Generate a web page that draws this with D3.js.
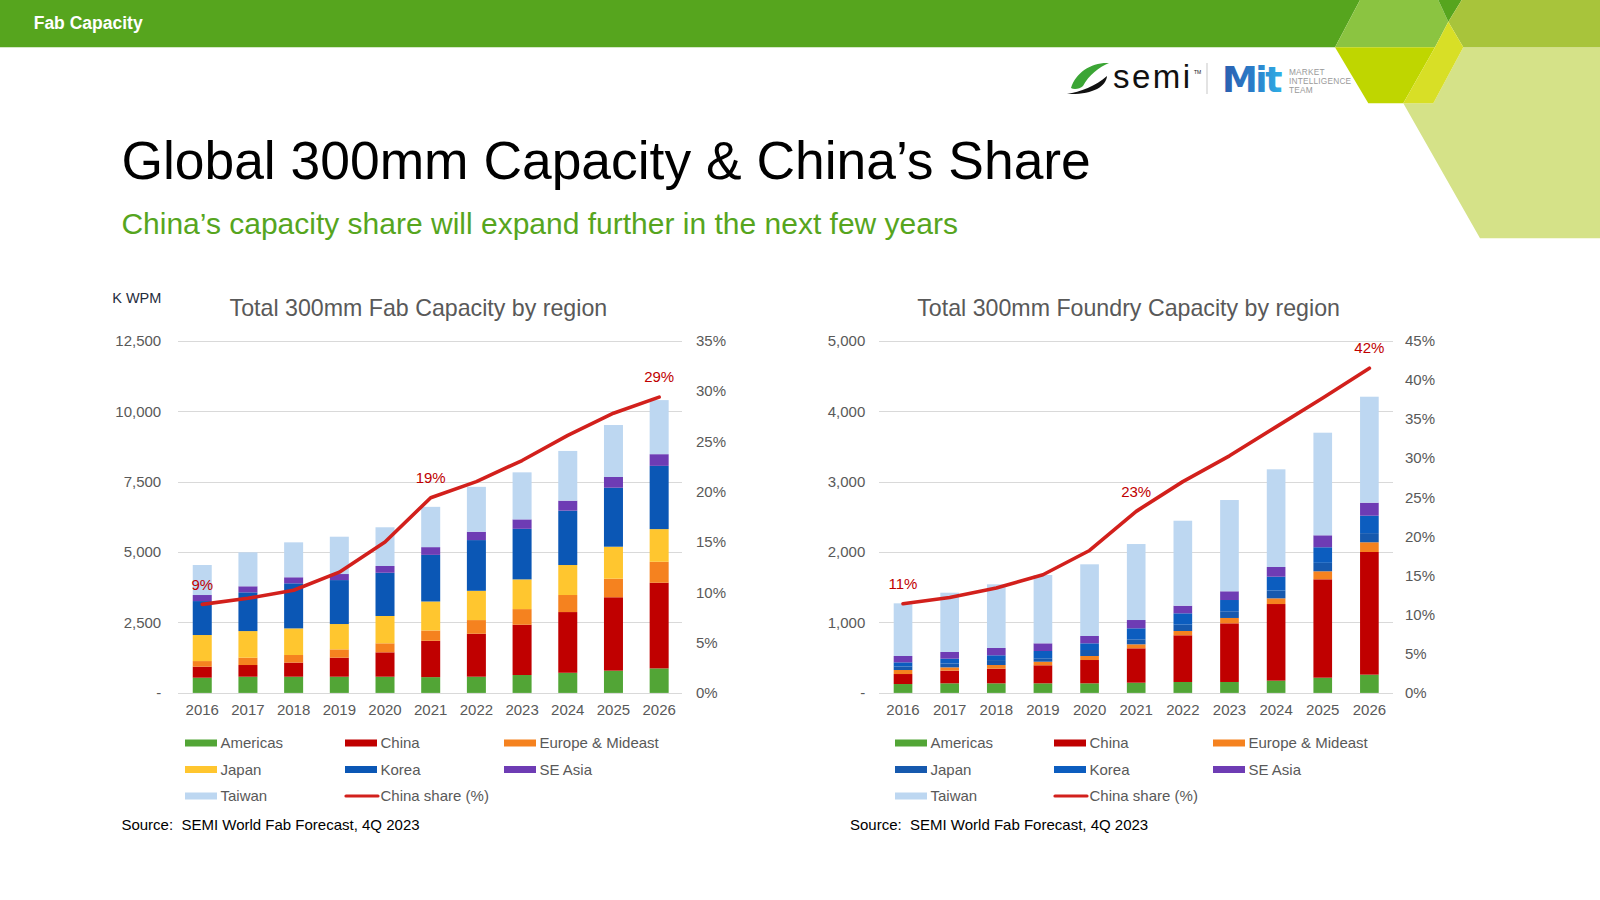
<!DOCTYPE html>
<html>
<head>
<meta charset="utf-8">
<script src="https://cdn.jsdelivr.net/npm/d3@7"></script>
<style>
  html, body { margin: 0; padding: 0; background: #fff; }
  svg { display: block; font-family: "Liberation Sans", Arial, Helvetica, sans-serif; }
</style>
</head>
<body>
<svg id="chart" width="1600" height="900"></svg>
<script>
// ---------------- DATA ----------------
const years = ["2016","2017","2018","2019","2020","2021","2022","2023","2024","2025","2026"];
const regionNames = ["Americas","China","Europe & Mideast","Japan","Korea","SE Asia","Taiwan"];

// Total 300mm Fab Capacity by region (K WPM)
const fabAmericas = [540, 575, 575, 575, 575, 560, 575, 635, 715, 790, 870];
const fabChina    = [390, 415, 500, 675, 865, 1290, 1525, 1785, 2155, 2605, 3040];
const fabEurope   = [200, 260, 270, 295, 320, 365, 485, 555, 605, 660, 745];
const fabJapan    = [925, 945, 945, 900, 970, 1030, 1040, 1055, 1065, 1135, 1160];
const fabKorea    = [1205, 1375, 1600, 1560, 1535, 1655, 1800, 1795, 1930, 2095, 2245];
const fabSEAsia   = [215, 215, 215, 215, 240, 275, 295, 335, 355, 380, 415];
const fabTaiwan   = [1065, 1205, 1240, 1325, 1375, 1430, 1595, 1670, 1765, 1845, 1920];
const fabChinaShare = [8.8, 9.4, 10.2, 12.0, 15.0, 19.4, 21.0, 23.1, 25.6, 27.8, 29.4];

// Total 300mm Foundry Capacity by region (K WPM)
const fdyAmericas = [126, 136, 136, 136, 136, 145, 155, 155, 174, 216, 259];
const fdyChina    = [142, 180, 208, 256, 331, 488, 663, 833, 1088, 1397, 1742];
const fdyEurope   = [57, 47, 52, 51, 57, 57, 61, 76, 81, 114, 138];
const fdyJapan    = [50, 55, 70, 48, 85, 70, 90, 95, 110, 120, 130];
const fdyKorea    = [59, 68, 68, 104, 95, 157, 161, 160, 197, 221, 247];
const fdySEAsia   = [90, 95, 104, 109, 104, 118, 108, 124, 138, 170, 185];
const fdyTaiwan   = [748, 842, 904, 970, 1018, 1079, 1207, 1296, 1387, 1457, 1505];
const fdyChinaShare = [11.4, 12.2, 13.4, 15.1, 18.2, 23.2, 27.0, 30.3, 34.0, 37.7, 41.5];

// Axis ticks
const fabTicks = [0, 2500, 5000, 7500, 10000, 12500];
const fabPctTicks = [0, 5, 10, 15, 20, 25, 30, 35];
const fdyTicks = [0, 1000, 2000, 3000, 4000, 5000];
const fdyPctTicks = [0, 5, 10, 15, 20, 25, 30, 35, 40, 45];
const labelYears = ["2016", "2021", "2026"];

// ---------------- STYLE ----------------
const fabColors = ["#52A536", "#C00000", "#F5821F", "#FFC62F", "#0B57B5", "#6E3CB4", "#BDD7F1"];
const fdyColors = ["#52A536", "#C00000", "#F5821F", "#1659AE", "#0C5DBF", "#6E3CB4", "#BDD7F1"];
const lineColor = "#D2201C";
const textGray = "#595959";

const svg = d3.select("#chart");

// ---------------- HEADER / DECORATION ----------------
const deco = svg.append("g");
const poly = (pts, fill) => deco.append("polygon").attr("points", pts.map(p => p.join(",")).join(" ")).attr("fill", fill);
poly([[1463.3,47.3],[1600,47.3],[1600,238.3],[1480,238.3],[1403.3,103.3],[1433.3,103.3]], "#D5E288");
poly([[0,0],[1360,0],[1335,47.3],[0,47.3]], "#56A51E");
poly([[1360,0],[1438.3,0],[1448.3,21.7],[1435,47.3],[1335,47.3]], "#8BC441");
poly([[1438.3,0],[1461.7,0],[1448.3,21.7]], "#56A51E");
poly([[1461.7,0],[1600,0],[1600,47.3],[1463.3,47.3],[1448.3,21.7]], "#A8C43B");
poly([[1335,47.3],[1435,47.3],[1403.3,103.3],[1368.3,103.3]], "#BFD600");
poly([[1448.3,21.7],[1463.3,47.3],[1433.3,103.3],[1403.3,103.3],[1435,47.3]], "#D8DF26");

svg.append("text").attr("x", 33.7).attr("y", 28.6).attr("fill", "#fff")
  .attr("font-size", 17.5).attr("font-weight", "bold").text("Fab Capacity");

// Logos
const logo = svg.append("g");
logo.append("path").attr("d", "M1071,88 C1076,72 1092,62 1109,63 C1099,67 1089,75 1083,86 C1080,89 1074,90 1071,88 Z").attr("fill", "#3BA535");
logo.append("path").attr("d", "M1067,94 C1080,92 1096,86 1107,76 C1106,87 1092,95 1067,94 Z").attr("fill", "#111");
logo.append("text").attr("x", 1113).attr("y", 88).attr("font-size", 33).attr("letter-spacing", 2.5)
  .attr("fill", "#111").text("semi");
logo.append("text").attr("x", 1194).attr("y", 74).attr("font-size", 5).attr("fill", "#111").text("TM");
logo.append("line").attr("x1", 1207).attr("x2", 1207).attr("y1", 63).attr("y2", 94).attr("stroke", "#D0D0D0").attr("stroke-width", 1.2);
const grad = svg.append("defs").append("linearGradient").attr("id", "mitGrad").attr("x1", "0%").attr("x2", "100%");
grad.append("stop").attr("offset", "0%").attr("stop-color", "#2A5DAE");
grad.append("stop").attr("offset", "55%").attr("stop-color", "#2B7FCB");
grad.append("stop").attr("offset", "100%").attr("stop-color", "#2FB0E6");
logo.append("text").attr("x", 1222).attr("y", 92).attr("font-size", 36).attr("font-weight", "bold")
  .attr("font-family", "DejaVu Sans, sans-serif").attr("letter-spacing", -2.5)
  .attr("fill", "url(#mitGrad)").text("Mit");
["MARKET", "INTELLIGENCE", "TEAM"].forEach((t, i) => {
  logo.append("text").attr("x", 1289).attr("y", 75 + i * 8.8).attr("font-size", 8.3)
    .attr("fill", "#9A9A9A").attr("letter-spacing", 0.2).text(t);
});

// Titles
svg.append("text").attr("x", 121.4).attr("y", 178.8).attr("font-size", 53.4).attr("fill", "#000")
  .text("Global 300mm Capacity & China\u2019s Share");
svg.append("text").attr("x", 121.4).attr("y", 233.7).attr("font-size", 30).attr("fill", "#56A51E")
  .text("China\u2019s capacity share will expand further in the next few years");
svg.append("text").attr("x", 112.2).attr("y", 302.5).attr("font-size", 14.5).attr("fill", "#1F2D3D")
  .text("K WPM");

// ---------------- CHART FUNCTION ----------------
const fmtK = d => d === 0 ? "-" : d3.format(",")(d);

function drawChart(cfg) {
  const g = svg.append("g");
  const rows = years.map((y, i) => {
    const r = { year: y };
    regionNames.forEach((k, j) => r[k] = cfg.series[j][i]);
    return r;
  });
  const stack = d3.stack().keys(regionNames)(rows);

  const x = d3.scaleBand().domain(years).range(cfg.xRange)
    .paddingInner(cfg.pad).paddingOuter(cfg.pad / 2);
  const y = d3.scaleLinear().domain([0, cfg.yMax]).range([692.9, 340.8]);
  const yp = d3.scaleLinear().domain([0, cfg.pMax]).range([692.9, 340.8]);

  // gridlines
  g.append("g").selectAll("line").data(cfg.ticks).join("line")
    .attr("x1", cfg.gridX[0]).attr("x2", cfg.gridX[1])
    .attr("y1", d => Math.round(y(d)) + 0.5).attr("y2", d => Math.round(y(d)) + 0.5)
    .attr("stroke", "#D9D9D9").attr("stroke-width", 1);

  // left axis
  const axL = d3.axisLeft(y).tickValues(cfg.ticks).tickFormat(fmtK).tickSize(0).tickPadding(0);
  const gl = g.append("g").attr("transform", `translate(${cfg.leftLabelX},0)`).call(axL);
  gl.select(".domain").remove();
  gl.selectAll("text").attr("font-size", 15).attr("fill", textGray).attr("font-family", "Liberation Sans, Arial, sans-serif");

  // right axis
  const axR = d3.axisRight(yp).tickValues(cfg.pTicks).tickFormat(d => d + "%").tickSize(0).tickPadding(0);
  const gr = g.append("g").attr("transform", `translate(${cfg.rightLabelX},0)`).call(axR);
  gr.select(".domain").remove();
  gr.selectAll("text").attr("font-size", 15).attr("fill", textGray).attr("font-family", "Liberation Sans, Arial, sans-serif");

  // x axis
  const axB = d3.axisBottom(x).tickSize(0).tickPadding(0);
  const gb = g.append("g").attr("transform", `translate(0,704.5)`).call(axB);
  gb.select(".domain").remove();
  gb.selectAll("text").attr("font-size", 15).attr("fill", textGray).attr("font-family", "Liberation Sans, Arial, sans-serif");

  // bars
  g.append("g").selectAll("g").data(stack).join("g")
    .attr("fill", (d, i) => cfg.colors[i])
    .selectAll("rect").data(d => d).join("rect")
    .attr("x", d => x(d.data.year))
    .attr("width", x.bandwidth())
    .attr("y", d => y(d[1]))
    .attr("height", d => y(d[0]) - y(d[1]));

  // line
  const line = d3.line().x((d, i) => x(years[i]) + x.bandwidth() / 2).y(d => yp(d));
  g.append("path").datum(cfg.share).attr("d", line).attr("fill", "none")
    .attr("stroke", lineColor).attr("stroke-width", 3.6)
    .attr("stroke-linejoin", "round").attr("stroke-linecap", "round");

  // data labels
  g.append("g").selectAll("text").data(labelYears).join("text")
    .attr("x", d => x(d) + x.bandwidth() / 2)
    .attr("y", d => yp(cfg.share[years.indexOf(d)]) - 20)
    .attr("dy", "0.35em").attr("text-anchor", "middle")
    .attr("font-size", 15).attr("fill", "#C00000")
    .text(d => Math.round(cfg.share[years.indexOf(d)]) + "%");

  // title
  g.append("text").attr("x", cfg.titleX).attr("y", 315.5).attr("text-anchor", "middle")
    .attr("font-size", 23.2).attr("fill", textGray).text(cfg.title);

  // legend
  const legendItems = regionNames.map((n, i) => ({ name: n, color: cfg.colors[i], type: "bar" }))
    .concat([{ name: "China share (%)", color: lineColor, type: "line" }]);
  const rowsY = [743, 769.5, 796];
  const lg = g.append("g");
  legendItems.forEach((it, i) => {
    const cx = cfg.legendX[i % 3];
    const cy = rowsY[Math.floor(i / 3)];
    if (it.type === "bar") {
      lg.append("rect").attr("x", cx).attr("y", cy - 3.5).attr("width", 32).attr("height", 7).attr("fill", it.color);
    } else {
      lg.append("line").attr("x1", cx + 1).attr("x2", cx + 33).attr("y1", cy).attr("y2", cy)
        .attr("stroke", it.color).attr("stroke-width", 3.2).attr("stroke-linecap", "round");
    }
    lg.append("text").attr("x", cx + 35.5).attr("y", cy).attr("dy", "0.35em")
      .attr("font-size", 15).attr("fill", textGray).text(it.name);
  });

  // source
  g.append("text").attr("x", cfg.sourceX).attr("y", 829.5).attr("font-size", 15).attr("fill", "#000")
    .attr("xml:space", "preserve").style("white-space", "pre")
    .text("Source:  SEMI World Fab Forecast, 4Q 2023");
}

drawChart({
  title: "Total 300mm Fab Capacity by region",
  titleX: 418.4,
  series: [fabAmericas, fabChina, fabEurope, fabJapan, fabKorea, fabSEAsia, fabTaiwan],
  share: fabChinaShare,
  colors: fabColors,
  ticks: fabTicks, yMax: 12500,
  pTicks: fabPctTicks, pMax: 35,
  xRange: [179.4, 682], pad: 0.584,
  gridX: [178, 682],
  leftLabelX: 161.2, rightLabelX: 696,
  legendX: [185, 345, 504],
  sourceX: 121.4
});

drawChart({
  title: "Total 300mm Foundry Capacity by region",
  titleX: 1128.6,
  series: [fdyAmericas, fdyChina, fdyEurope, fdyJapan, fdyKorea, fdySEAsia, fdyTaiwan],
  share: fdyChinaShare,
  colors: fdyColors,
  ticks: fdyTicks, yMax: 5000,
  pTicks: fdyPctTicks, pMax: 45,
  xRange: [879.7, 1392.7], pad: 0.6,
  gridX: [879, 1393],
  leftLabelX: 865.3, rightLabelX: 1405,
  legendX: [895, 1054, 1213],
  sourceX: 850
});
</script>
</body>
</html>
